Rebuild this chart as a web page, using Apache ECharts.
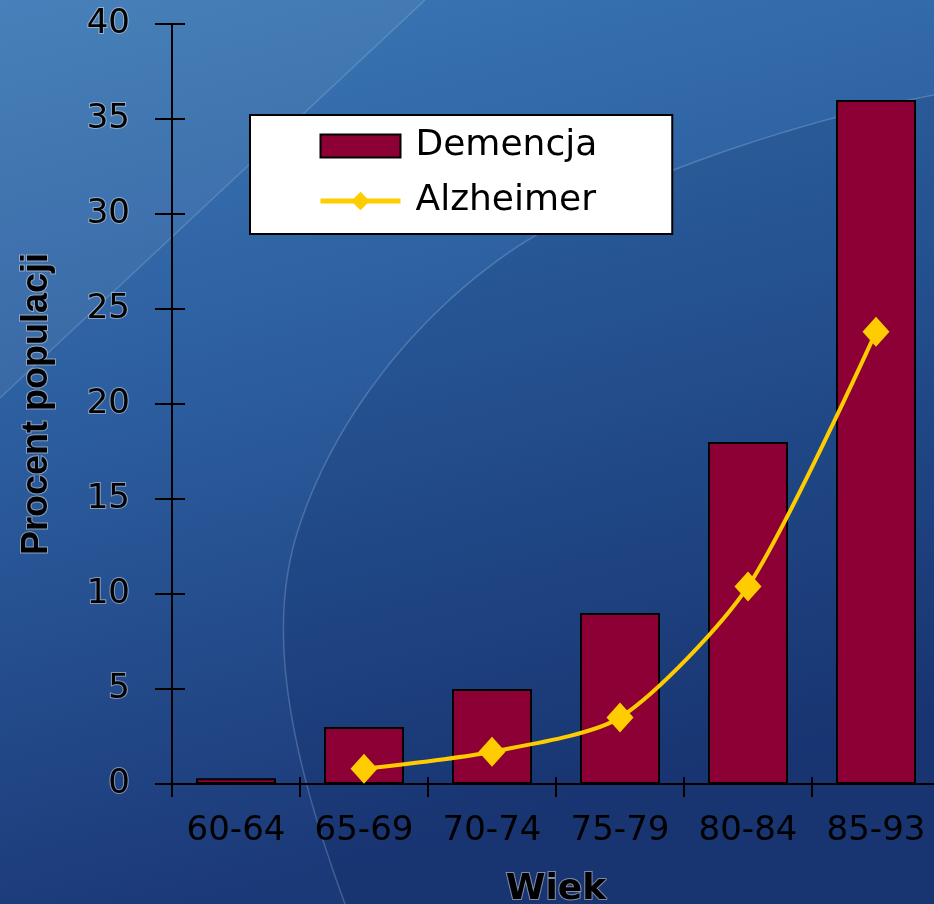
<!DOCTYPE html>
<html>
<head>
<meta charset="utf-8">
<script src="https://cdn.jsdelivr.net/npm/echarts@6/dist/echarts.min.js"></script>
<style>
  html, body { margin: 0; padding: 0; background: #1c3a78; }
  #chart { width: 934px; height: 904px; }
</style>
</head>
<body>
<div id="chart"></div>
<script>
// Age groups and prevalence (% of population)
const categories = ['60-64', '65-69', '70-74', '75-79', '80-84', '85-93'];
const dementia = [0.3, 3, 5, 9, 18, 36];
const alzheimer = [null, 0.8, 1.7, 3.5, 10.4, 23.8];
const yMin = 0, yMax = 40, yStep = 5;

const chart = echarts.init(document.getElementById('chart'));

// Sample a chain of cubic Bezier segments into a list of points
function bezierChain(start, segments, steps) {
  const pts = [start.slice()];
  let p0 = start;
  segments.forEach(function (seg) {
    const c1 = seg[0], c2 = seg[1], p3 = seg[2];
    for (let i = 1; i <= steps; i++) {
      const t = i / steps, u = 1 - t;
      pts.push([
        u * u * u * p0[0] + 3 * u * u * t * c1[0] + 3 * u * t * t * c2[0] + t * t * t * p3[0],
        u * u * u * p0[1] + 3 * u * u * t * c1[1] + 3 * u * t * t * c2[1] + t * t * t * p3[1]
      ]);
    }
    p0 = p3;
  });
  return pts;
}

// Large decorative arc sweeping across the backdrop
const arcPts = bezierChain([934, 95], [
  [[800, 120], [620, 180], [520, 245]],
  [[420, 310], [330, 420], [295, 540]],
  [[270, 630], [285, 740], [345, 904]]
], 30);

const background = [
  {
    type: 'rect', z: -100, silent: true,
    shape: { x: 0, y: 0, width: 934, height: 904 },
    style: {
      fill: new echarts.graphic.LinearGradient(0, 0, 0.25, 1, [
        { offset: 0, color: '#3c79b6' },
        { offset: 0.45, color: '#2c5e9f' },
        { offset: 1, color: '#1b3877' }
      ])
    }
  },
  {
    type: 'polygon', z: -99, silent: true,
    shape: { points: [[0, 0], [425, 0], [0, 398]] },
    style: { fill: 'rgba(255,255,255,0.06)' }
  },
  {
    type: 'line', z: -98, silent: true,
    shape: { x1: 0, y1: 398, x2: 425, y2: 0 },
    style: { stroke: 'rgba(200,225,250,0.2)', lineWidth: 1.5 }
  },
  {
    type: 'polygon', z: -97, silent: true,
    shape: { points: arcPts.concat([[934, 904]]) },
    style: { fill: 'rgba(5,25,80,0.14)' }
  },
  {
    type: 'polyline', z: -96, silent: true,
    shape: { points: arcPts },
    style: { fill: null, stroke: 'rgba(190,215,245,0.25)', lineWidth: 1.5 }
  }
];

const haloText = { textBorderColor: 'rgba(225,225,225,0.5)', textBorderWidth: 2 };
const hiddenLine = { show: true, onZero: false, lineStyle: { color: 'rgba(0,0,0,0)', width: 1 } };

chart.setOption({
  animation: false,
  backgroundColor: 'transparent',
  graphic: { elements: background },
  grid: {
    left: 172, top: 24, right: -6, bottom: 120,
    containLabel: false,
    outerBoundsMode: 'none'
  },
  legend: {
    orient: 'vertical',
    left: 250, top: 115,
    data: [{ name: 'Demencja', icon: 'rect' }, { name: 'Alzheimer' }],
    backgroundColor: '#ffffff',
    borderColor: '#000000',
    borderWidth: 2,
    borderRadius: 0,
    padding: [13, 75, 15, 68],
    itemWidth: 80,
    itemHeight: 23,
    itemGap: 19,
    lineStyle: { width: 5 },
    textStyle: {
      fontFamily: 'DejaVu Sans',
      fontSize: 36,
      color: '#000000',
      padding: [0, 0, 0, 10]
    }
  },
  xAxis: [
    {
      type: 'category',
      data: categories,
      boundaryGap: true,
      axisLine: { show: true, lineStyle: { color: '#000', width: 2 } },
      axisTick: { show: true, interval: 0, inside: false, length: 13, lineStyle: { color: '#000', width: 2 } },
      axisLabel: {
        show: true, interval: 0, margin: 30, color: '#000',
        fontFamily: 'DejaVu Sans', fontSize: 34, fontWeight: 'normal'
      },
      splitLine: { show: false },
      name: 'Wiek',
      nameLocation: 'middle',
      nameGap: 88,
      nameTextStyle: Object.assign({
        fontFamily: 'DejaVu Sans', fontSize: 36, fontWeight: 'bold', color: '#000'
      }, haloText)
    },
    {
      type: 'category',
      data: categories,
      position: 'bottom',
      offset: 0,
      boundaryGap: true,
      axisLine: hiddenLine,
      axisTick: { show: true, interval: 0, inside: true, length: 7, lineStyle: { color: '#000', width: 2 } },
      axisLabel: { show: false, interval: 0 },
      splitLine: { show: false }
    }
  ],
  yAxis: [
    {
      type: 'value',
      min: yMin, max: yMax, interval: yStep,
      axisLine: { show: true, lineStyle: { color: '#000', width: 2 } },
      axisTick: { show: true, inside: false, length: 17, lineStyle: { color: '#000', width: 2 } },
      axisLabel: Object.assign({
        show: true, margin: 42, color: '#000',
        fontFamily: 'DejaVu Sans', fontSize: 34, fontWeight: 'normal'
      }, haloText),
      splitLine: { show: false },
      name: 'Procent populacji',
      nameLocation: 'middle',
      nameGap: 117,
      nameRotate: 90,
      nameTextStyle: Object.assign({
        fontFamily: 'Liberation Sans', fontSize: 36, fontWeight: 'bold', color: '#000'
      }, haloText)
    },
    {
      type: 'value',
      min: yMin, max: yMax, interval: yStep,
      position: 'left',
      offset: 0,
      axisLine: hiddenLine,
      axisTick: { show: true, inside: true, length: 13, lineStyle: { color: '#000', width: 2 } },
      axisLabel: { show: false },
      splitLine: { show: false }
    }
  ],
  series: [
    {
      name: 'Demencja',
      type: 'bar',
      xAxisIndex: 0, yAxisIndex: 0,
      data: dementia,
      barWidth: '62.5%',
      itemStyle: { color: '#8C0036', borderColor: '#000', borderWidth: 2 }
    },
    {
      name: 'Alzheimer',
      type: 'line',
      xAxisIndex: 1, yAxisIndex: 1,
      data: alzheimer,
      connectNulls: false,
      smooth: 0.25,
      symbol: 'diamond',
      symbolSize: [27, 30],
      showAllSymbol: true,
      lineStyle: { color: '#FFCC00', width: 4 },
      itemStyle: { color: '#FFCC00', borderWidth: 0 },
      z: 3
    }
  ]
});
</script>
</body>
</html>
